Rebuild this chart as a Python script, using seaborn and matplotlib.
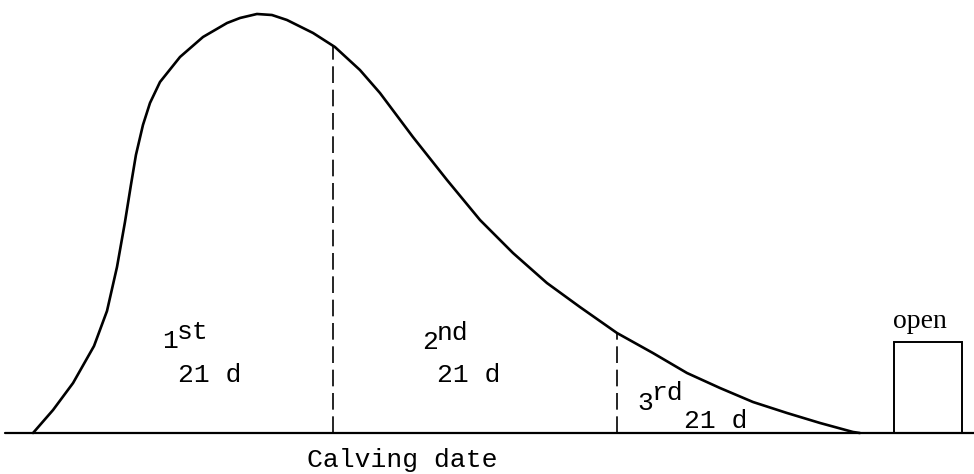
import numpy as np
import matplotlib
matplotlib.use("Agg")
import matplotlib.pyplot as plt
import seaborn as sns

# calving distribution (days from start, % of peak)
days = [-1.18, 0.30, 1.78, 3.33, 4.29, 5.03, 5.62, 6.06, 6.43, 6.95, 7.47, 8.21,
        9.69, 11.39, 13.17, 14.13, 15.38, 16.49, 17.60, 19.53, 21.15, 23.00,
        24.48, 26.92, 29.44, 31.88, 34.32, 36.83, 39.27, 42.01, 44.67, 47.19,
        49.63, 52.07, 54.59, 57.03, 59.47, 59.98]
calvings = [0.0, 5.49, 11.93, 20.76, 29.12, 39.62, 50.36, 59.19, 66.35, 73.51,
            78.76, 83.77, 89.74, 94.51, 97.85, 99.05, 100.0, 99.76, 98.57, 95.47,
            92.12, 86.63, 81.15, 70.64, 60.38, 50.84, 42.96, 35.80, 30.07, 23.87,
            19.09, 14.32, 10.74, 7.40, 4.77, 2.39, 0.24, 0.0]
period_ends = [21, 42]
open_day = 65.0
open_share = 21.7

sns.set_theme(style="white")
plt.rcParams['font.family'] = ['Liberation Mono', 'DejaVu Sans']

fig = plt.figure(figsize=(9.74, 4.74), dpi=100)
ax = fig.add_axes([0, 0, 1, 1])

sns.lineplot(x=days, y=calvings, color='black', linewidth=1.9, ax=ax, sort=False)

heights = np.interp(period_ends, days, calvings)
ax.vlines(period_ends, 0, heights, colors='black', linewidth=1.2,
          linestyles=[(0, (10, 4))])

ax.bar([open_day], [open_share], width=5.0, fill=False, edgecolor='black', linewidth=1.4)

ax.axhline(0, xmin=0.005, xmax=1, color='black', linewidth=1.6)

fs = 19
kw = dict(ha='left', va='baseline', fontsize=fs, color='black')
ax.text(8.36, 20.3, "1", **kw)
ax.text(9.47, 22.4, "st", **kw)
ax.text(9.54, 12.2, "21 d", **kw)
ax.text(27.6, 20.0, "2", **kw)
ax.text(28.7, 22.2, "nd", **kw)
ax.text(28.7, 12.2, "21 d", **kw)
ax.text(43.5, 5.5, "3", **kw)
ax.text(44.6, 7.9, "rd", **kw)
ax.text(47.0, 1.2, "21 d", **kw)
ax.text(62.4, 25.0, "open", ha='left', va='baseline', fontsize=20,
        family=['Liberation Serif'], color='black')
ax.text(19.1, -8.1, "Calving date", **kw)

ax.set_xlim(-3.624, 68.42)
ax.set_ylim(-9.785, 103.34)
ax.axis('off')

fig.savefig("out.png", dpi=100)
